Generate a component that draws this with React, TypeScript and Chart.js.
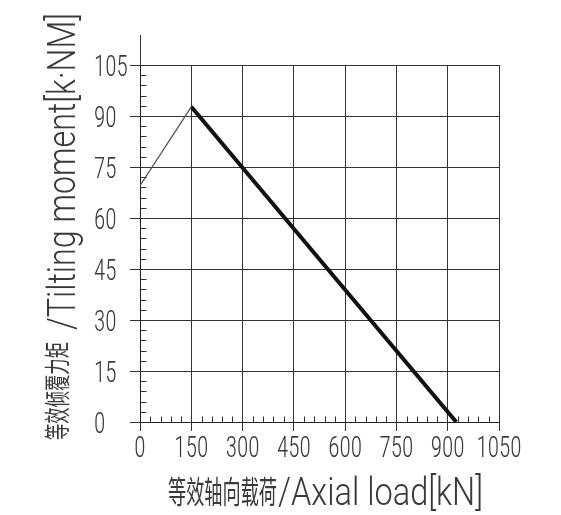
import React, { useEffect, useRef } from "react";
import { Chart, registerables } from "chart.js";

Chart.register(...registerables);

// ---- data ----
const loadKN = [0, 150, 925];
const momentKNm = [69.5, 92.7, 0];
const xTickValues = [0, 150, 300, 450, 600, 750, 900, 1050];
const yTickValues = [0, 15, 30, 45, 60, 75, 90, 105];
const xMinorStep = 30;
const yMinorStep = 3;
const xTitleCn = "等效轴向载荷";
const xTitleEn = "/Axial load[kN]";
const yTitleCn = "等效倾覆力矩";
const yTitleEn = "/Tilting moment[k·NM]";

const INK = "#3a3a3a";
const TICK_FONT = "300 29px 'Roboto Condensed', 'Liberation Sans Narrow', Roboto, sans-serif";
const TICK_SQUEEZE = 0.8;

function drawCondensed(
  ctx: CanvasRenderingContext2D,
  text: string,
  font: string,
  targetWidth: number,
  baseline: CanvasTextBaseline
) {
  ctx.font = font;
  ctx.textAlign = "left";
  ctx.textBaseline = baseline;
  const w = ctx.measureText(text).width || 1;
  ctx.save();
  ctx.scale(targetWidth / w, 1);
  ctx.fillText(text, 0, 0);
  ctx.restore();
}

function drawSqueezed(
  ctx: CanvasRenderingContext2D,
  text: string,
  x: number,
  y: number,
  align: "left" | "center"
) {
  ctx.font = TICK_FONT;
  ctx.textBaseline = "alphabetic";
  ctx.textAlign = "left";
  const w = ctx.measureText(text).width * TICK_SQUEEZE;
  const x0 = align === "center" ? x - w / 2 : x;
  ctx.save();
  ctx.translate(x0, y);
  ctx.scale(TICK_SQUEEZE, 1);
  ctx.fillText(text, 0, 0);
  ctx.restore();
}

const decorPlugin = {
  id: "decor",
  afterDraw(chart: any) {
    const ctx: CanvasRenderingContext2D = chart.ctx;
    const xs = chart.scales.x;
    const ys = chart.scales.y;
    const { left, bottom, top } = chart.chartArea;
    const ax = Math.round(left) + 0.5;
    const ab = Math.round(bottom) + 0.5;
    ctx.save();
    ctx.strokeStyle = "#333";
    ctx.lineWidth = 1;
    // y axis extension above the grid
    ctx.beginPath();
    ctx.moveTo(ax, top);
    ctx.lineTo(ax, top - 30);
    ctx.stroke();
    // minor ticks
    ctx.beginPath();
    for (let v = yMinorStep; v < 105; v += yMinorStep) {
      if (v % 15 === 0) continue;
      const y = Math.round(ys.getPixelForValue(v)) + 0.5;
      ctx.moveTo(ax, y);
      ctx.lineTo(ax + 6, y);
    }
    for (let v = xMinorStep; v < 1050; v += xMinorStep) {
      if (v % 150 === 0) continue;
      const x = Math.round(xs.getPixelForValue(v)) + 0.5;
      ctx.moveTo(x, ab);
      ctx.lineTo(x, ab - 6);
    }
    ctx.stroke();

    ctx.fillStyle = INK;
    // tick labels (narrow drafting style)
    xs.ticks.forEach((t: any) => {
      drawSqueezed(ctx, String(t.value), xs.getPixelForValue(t.value), bottom + 35, "center");
    });
    ys.ticks.forEach((t: any) => {
      drawSqueezed(ctx, String(t.value), 94, ys.getPixelForValue(t.value) + 10.5, "left");
    });

    // titles
    ctx.save();
    ctx.translate(168, 491);
    drawCondensed(ctx, xTitleCn, "31px 'Noto Sans CJK SC'", 109, "middle");
    ctx.restore();
    ctx.save();
    ctx.translate(278, 505);
    drawCondensed(ctx, xTitleEn, "300 39px Roboto", 205, "alphabetic");
    ctx.restore();
    ctx.save();
    ctx.translate(57, 440);
    ctx.rotate(-Math.PI / 2);
    drawCondensed(ctx, yTitleCn, "26px 'Noto Sans CJK SC'", 98, "middle");
    ctx.restore();
    ctx.save();
    ctx.translate(75, 330);
    ctx.rotate(-Math.PI / 2);
    drawCondensed(ctx, yTitleEn, "300 38px Roboto", 317, "alphabetic");
    ctx.restore();

    ctx.restore();
  },
};

export default function App() {
  const ref = useRef<HTMLCanvasElement | null>(null);

  useEffect(() => {
    if (!ref.current) return;
    const pts = loadKN.map((x, i) => ({ x, y: momentKNm[i] }));
    const chart = new Chart(ref.current, {
      type: "scatter",
      data: {
        datasets: [
          {
            label: "rise",
            data: pts.slice(0, 2),
            showLine: true,
            borderColor: "#555",
            borderWidth: 1.3,
            pointRadius: 0,
            fill: false,
          },
          {
            label: "limit",
            data: pts.slice(1),
            showLine: true,
            borderColor: "#111",
            borderWidth: 4,
            pointRadius: 0,
            fill: false,
          },
        ],
      },
      options: {
        responsive: false,
        animation: false,
        events: [],
        layout: { padding: { left: 95, top: 65, right: 62, bottom: 43 } },
        plugins: {
          legend: { display: false },
          tooltip: { enabled: false },
          title: { display: false },
        },
        scales: {
          x: {
            type: "linear",
            min: 0,
            max: 1050,
            afterBuildTicks: (s: any) => {
              s.ticks = xTickValues.map((value) => ({ value }));
            },
            afterFit: (s: any) => {
              s.height = 50;
            },
            grid: { color: "#333", lineWidth: 1, tickLength: 9, drawTicks: true },
            border: { display: true, color: "#222", width: 1 },
            ticks: { display: false, autoSkip: false },
          },
          y: {
            type: "linear",
            min: 0,
            max: 105,
            afterBuildTicks: (s: any) => {
              s.ticks = yTickValues.map((value) => ({ value }));
            },
            afterFit: (s: any) => {
              s.width = 45;
            },
            grid: { color: "#333", lineWidth: 1, tickLength: 10, drawTicks: true },
            border: { display: true, color: "#222", width: 1 },
            ticks: { display: false, autoSkip: false },
          },
        },
      },
      plugins: [decorPlugin],
    });
    return () => chart.destroy();
  }, []);

  return (
    <div
      style={{
        position: "fixed",
        left: 0,
        top: 0,
        width: 561,
        height: 515,
        background: "#fff",
      }}
    >
      <canvas ref={ref} width={561} height={515} style={{ width: 561, height: 515 }} />
    </div>
  );
}
